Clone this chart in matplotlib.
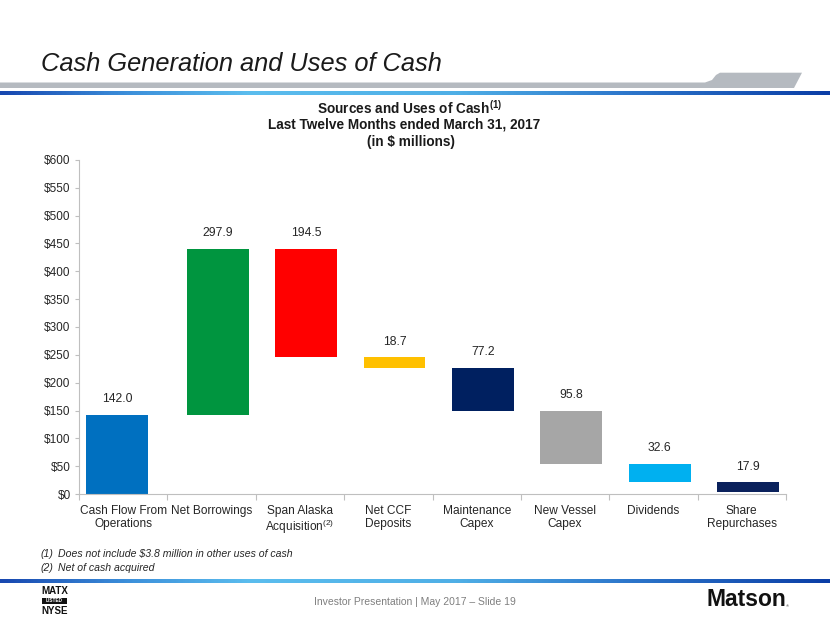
import matplotlib
matplotlib.use("Agg")
import matplotlib.pyplot as plt
import numpy as np
from matplotlib.patches import Polygon, Rectangle
from matplotlib.colors import LinearSegmentedColormap

plt.rcParams['font.family'] = ['Liberation Sans', 'DejaVu Sans']
plt.rcParams['mathtext.default'] = 'regular'

# ---- data ----
categories = ["Cash Flow From\nOperations", "Net Borrowings", "Span Alaska\nAcquisition$^{(2)}$",
              "Net CCF\nDeposits", "Maintenance\nCapex", "New Vessel\nCapex", "Dividends",
              "Share\nRepurchases"]
values = [142.0, 297.9, -194.5, -18.7, -77.2, -95.8, -32.6, -17.9]
value_labels = ["142.0", "297.9", "194.5", "18.7", "77.2", "95.8", "32.6", "17.9"]
colors = ["#0070C0", "#00953F", "#FF0000", "#FFC000", "#002060", "#A6A6A6", "#00B0F0", "#0A215C"]
yticks = [0, 50, 100, 150, 200, 250, 300, 350, 400, 450, 500, 550, 600]

W, H = 830, 623
fig = plt.figure(figsize=(W / 100, H / 100), dpi=100)
fig.patch.set_facecolor("white")

def fx(px):
    return px / W

def fy(py):
    return 1 - py / H

# ---- header ----
fig.text(fx(41), fy(64), "Cash Generation and Uses of Cash", fontsize=18.3, style="italic",
         color="#1a1a1a", ha="left", va="center")
band = Polygon([(fx(0), fy(82.5)), (fx(705), fy(82.5)), (fx(712), fy(80)), (fx(716), fy(75)),
                (fx(720), fy(72.7)), (fx(802), fy(72.7)), (fx(794), fy(88)), (fx(0), fy(88))],
               closed=True, transform=fig.transFigure, facecolor="#B5BAC0", edgecolor="none")
fig.patches.append(band)

grad_cmap = LinearSegmentedColormap.from_list(
    "hdr", [(0.0, "#1848B0"), (0.15, "#3C8FDA"), (0.3, "#5BBDEE"), (0.55, "#4FAFE6"),
            (0.75, "#2E78CC"), (1.0, "#0B3EA6")])
for y0, y1 in [(90.5, 95), (578.5, 583)]:
    gax = fig.add_axes([0, fy(y1), 1, (y1 - y0) / H])
    gax.imshow(np.linspace(0, 1, 400).reshape(1, -1), cmap=grad_cmap, aspect="auto")
    gax.set_axis_off()

# ---- chart title ----
fig.text(fx(410), fy(108), "Sources and Uses of Cash$^{(1)}$", fontsize=9.8, fontweight="bold",
         ha="center", va="center", color="#1a1a1a")
fig.text(fx(404), fy(125), "Last Twelve Months ended March 31, 2017", fontsize=9.8,
         fontweight="bold", ha="center", va="center", color="#1a1a1a")
fig.text(fx(411), fy(142), "(in $ millions)", fontsize=9.8, fontweight="bold",
         ha="center", va="center", color="#1a1a1a")

# ---- waterfall ----
ax = fig.add_axes([fx(79), fy(494), fx(786) - fx(79), (494 - 160) / H])
x = np.arange(len(categories))
offsets = np.array([-0.07] + [0.07] * (len(categories) - 1))
cum = 0.0
bottoms, heights = [], []
for v in values:
    if v >= 0:
        bottoms.append(cum)
        heights.append(v)
    else:
        bottoms.append(cum + v)
        heights.append(-v)
    cum += v
ax.bar(x + offsets, heights, bottom=bottoms, width=0.70, color=colors, edgecolor="none")
for xi, b, h, lab in zip(x + offsets, bottoms, heights, value_labels):
    ax.annotate(lab, (xi, b + h), xytext=(0, 7), textcoords="offset points",
                ha="center", va="bottom", fontsize=8.7, color="#262626")

ax.set_xlim(-0.5, len(categories) - 0.5)
ax.set_ylim(0, 600)
ax.set_yticks(yticks)
ax.set_yticklabels([f"${t}" for t in yticks], fontsize=8.5, color="#262626")
ax.set_xticks(x)
ax.set_xticklabels(categories, fontsize=8.6, color="#262626", linespacing=1.05)
ax.set_xticks(np.arange(-0.5, len(categories)), minor=True)
ax.tick_params(axis="x", which="major", length=0, pad=8)
ax.tick_params(axis="x", which="minor", length=4, color="#BFBFBF", width=0.8)
ax.tick_params(axis="y", length=3, color="#BFBFBF", width=0.8, pad=3)
for s in ["top", "right"]:
    ax.spines[s].set_visible(False)
for s in ["left", "bottom"]:
    ax.spines[s].set_color("#BFBFBF")
    ax.spines[s].set_linewidth(0.8)

# ---- footnotes ----
fig.text(fx(40), fy(554), "(1)", fontsize=7.6, style="italic", va="center", color="#262626")
fig.text(fx(58), fy(554), "Does not include $3.8 million in other uses of cash", fontsize=7.6,
         style="italic", va="center", color="#262626")
fig.text(fx(40), fy(568), "(2)", fontsize=7.6, style="italic", va="center", color="#262626")
fig.text(fx(58), fy(568), "Net of cash acquired", fontsize=7.6, style="italic", va="center",
         color="#262626")

# ---- footer ----
fig.text(fx(415), fy(602), "Investor Presentation | May 2017 \u2013 Slide 19", fontsize=7.5,
         ha="center", va="center", color="#7F7F7F")
fig.text(fx(54.5), fy(591), "MATX", fontsize=7, fontweight="bold", va="center", ha="center",
         color="#111111")
fig.patches.append(Rectangle((fx(42), fy(603.5)), fx(25), 6 / H, transform=fig.transFigure,
                             facecolor="#111111", edgecolor="none"))
fig.text(fx(54.5), fy(600.5), "LISTED", fontsize=3.4, fontweight="bold", va="center", ha="center",
         color="white")
fig.text(fx(54.5), fy(610.5), "NYSE", fontsize=7, fontweight="bold", va="center", ha="center",
         color="#111111")
fig.text(fx(706), fy(600), "Matson", fontsize=16.5, fontweight="bold", va="center", ha="left",
         color="#111111")
fig.text(fx(786), fy(606), "\u00ae", fontsize=3, va="center", ha="left", color="#333333")

fig.savefig("out.png", dpi=100, facecolor="white")
